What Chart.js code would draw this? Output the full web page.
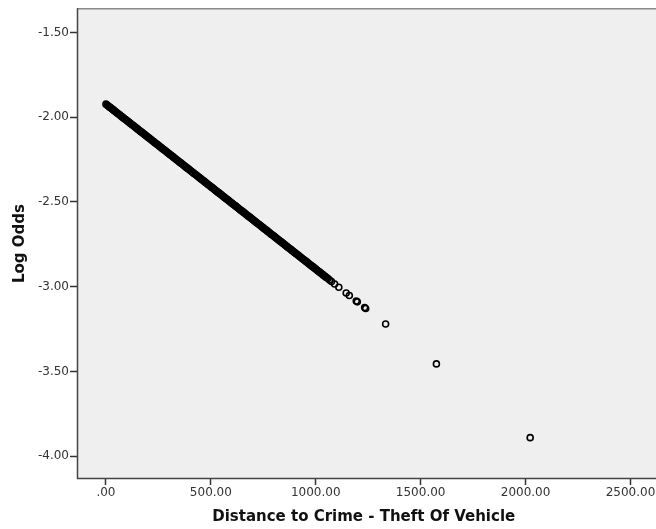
<!DOCTYPE html>
<html>
<head>
<meta charset="utf-8">
<script src="https://cdn.jsdelivr.net/npm/chart.js@4/dist/chart.umd.min.js"></script>
<style>
  html, body { margin: 0; padding: 0; background: #fff; overflow: hidden; }
  canvas { display: block; }
</style>
</head>
<body>
<canvas id="logOddsChart" width="656" height="529"></canvas>
<script>
// Values
const distance = [
    0, 5, 10, 15, 20, 25, 30, 35, 40, 45,
    50, 55, 60, 65, 70, 75, 80, 85, 90, 95,
    100, 105, 110, 115, 120, 125, 130, 135, 140, 145,
    150, 155, 160, 165, 170, 175, 180, 185, 190, 195,
    200, 205, 210, 215, 220, 225, 230, 235, 240, 245,
    250, 255, 260, 265, 270, 275, 280, 285, 290, 295,
    300, 305, 310, 315, 320, 325, 330, 335, 340, 345,
    350, 355, 360, 365, 370, 375, 380, 385, 390, 395,
    400, 405, 410, 415, 420, 425, 430, 435, 440, 445,
    450, 455, 460, 465, 470, 475, 480, 485, 490, 495,
    500, 505, 510, 515, 520, 525, 530, 535, 540, 545,
    550, 555, 560, 565, 570, 575, 580, 585, 590, 595,
    600, 605, 610, 615, 620, 625, 630, 635, 640, 645,
    650, 655, 660, 665, 670, 675, 680, 685, 690, 695,
    700, 705, 710, 715, 720, 725, 730, 735, 740, 745,
    750, 755, 760, 765, 770, 775, 780, 785, 790, 795,
    800, 805, 810, 815, 820, 825, 830, 835, 840, 845,
    850, 855, 860, 865, 870, 875, 880, 885, 890, 895,
    900, 905, 910, 915, 920, 925, 930, 935, 940, 945,
    950, 955, 960, 965, 970, 975, 980, 985, 990, 995,
    1000, 1005, 1010, 1015, 1020, 1025, 1030, 1035, 1040, 1045,
    1050, 1058, 1066, 1075, 1090, 1110, 1145, 1160, 1193, 1198,
    1233, 1238, 1333, 1575, 2022
];
const logOdds = [
    -1.923, -1.928, -1.933, -1.938, -1.942, -1.947, -1.952, -1.957, -1.962, -1.967,
    -1.972, -1.977, -1.981, -1.986, -1.991, -1.996, -2.001, -2.006, -2.011, -2.015,
    -2.020, -2.025, -2.030, -2.035, -2.040, -2.045, -2.049, -2.054, -2.059, -2.064,
    -2.069, -2.074, -2.079, -2.084, -2.088, -2.093, -2.098, -2.103, -2.108, -2.113,
    -2.118, -2.122, -2.127, -2.132, -2.137, -2.142, -2.147, -2.152, -2.157, -2.161,
    -2.166, -2.171, -2.176, -2.181, -2.186, -2.191, -2.195, -2.200, -2.205, -2.210,
    -2.215, -2.220, -2.225, -2.229, -2.234, -2.239, -2.244, -2.249, -2.254, -2.259,
    -2.264, -2.268, -2.273, -2.278, -2.283, -2.288, -2.293, -2.298, -2.302, -2.307,
    -2.312, -2.317, -2.322, -2.327, -2.332, -2.337, -2.341, -2.346, -2.351, -2.356,
    -2.361, -2.366, -2.371, -2.375, -2.380, -2.385, -2.390, -2.395, -2.400, -2.405,
    -2.410, -2.414, -2.419, -2.424, -2.429, -2.434, -2.439, -2.444, -2.448, -2.453,
    -2.458, -2.463, -2.468, -2.473, -2.478, -2.482, -2.487, -2.492, -2.497, -2.502,
    -2.507, -2.512, -2.517, -2.521, -2.526, -2.531, -2.536, -2.541, -2.546, -2.551,
    -2.555, -2.560, -2.565, -2.570, -2.575, -2.580, -2.585, -2.589, -2.594, -2.599,
    -2.604, -2.609, -2.614, -2.619, -2.624, -2.628, -2.633, -2.638, -2.643, -2.648,
    -2.653, -2.658, -2.662, -2.667, -2.672, -2.677, -2.682, -2.687, -2.692, -2.696,
    -2.701, -2.706, -2.711, -2.716, -2.721, -2.726, -2.731, -2.735, -2.740, -2.745,
    -2.750, -2.755, -2.760, -2.765, -2.770, -2.774, -2.779, -2.784, -2.789, -2.794,
    -2.799, -2.804, -2.808, -2.813, -2.818, -2.823, -2.828, -2.833, -2.838, -2.842,
    -2.847, -2.852, -2.857, -2.862, -2.867, -2.872, -2.877, -2.881, -2.886, -2.891,
    -2.896, -2.901, -2.906, -2.911, -2.915, -2.920, -2.925, -2.930, -2.935, -2.940,
    -2.945, -2.952, -2.960, -2.969, -2.984, -3.003, -3.037, -3.052, -3.084, -3.089,
    -3.123, -3.128, -3.220, -3.455, -3.890
];
const xTicks = [0, 500, 1000, 1500, 2000, 2500];
const yTicks = [-1.5, -2.0, -2.5, -3.0, -3.5, -4.0];

const fontFamily = '"DejaVu Sans", "Liberation Sans", sans-serif';

// Tlo i ramka obszaru wykresu (tlo siega do prawej krawedzi)
const framePlugin = {
    id: 'frame',
    beforeDraw(chart) {
        const { ctx, chartArea: a } = chart;
        ctx.save();
        ctx.fillStyle = '#efefef';
        ctx.fillRect(a.left, a.top, chart.width - a.left, a.bottom - a.top);
        ctx.restore();
    },
    afterDatasetsDraw(chart) {
        const { ctx, chartArea: a } = chart;
        ctx.save();
        ctx.strokeStyle = '#8a8a8a';
        ctx.lineWidth = 1.5;
        ctx.beginPath();
        ctx.moveTo(a.left, a.top + 0.5);
        ctx.lineTo(chart.width, a.top + 0.5);
        ctx.stroke();
        ctx.strokeStyle = '#444';
        ctx.lineWidth = 1.5;
        ctx.beginPath();
        ctx.moveTo(a.left + 0.5, a.top);
        ctx.lineTo(a.left + 0.5, a.bottom - 0.5);
        ctx.lineTo(chart.width, a.bottom - 0.5);
        ctx.stroke();
        ctx.restore();
    }
};

function fmt(v) {
    if (v === 0) return '.00';
    return v.toFixed(2);
}

const points = distance.map((d, i) => ({ x: d, y: logOdds[i] }));

new Chart(document.getElementById('logOddsChart'), {
    type: 'scatter',
    data: {
        datasets: [{
            data: points,
            pointRadius: 3,
            pointBorderWidth: 1.6,
            pointBorderColor: '#000',
            pointBackgroundColor: 'rgba(0,0,0,0)'
        }]
    },
    options: {
        responsive: false,
        animation: false,
        layout: { padding: { top: 8, right: 0, left: 0, bottom: 0 } },
        plugins: {
            legend: { display: false },
            tooltip: { enabled: false }
        },
        scales: {
            x: {
                type: 'linear',
                min: -138,
                max: 2595,
                afterBuildTicks: scale => { scale.ticks = xTicks.map(v => ({ value: v })); },
                afterFit: scale => {
                    scale.height = 50;
                    scale.paddingLeft = 0;
                    scale.paddingRight = 0;
                },
                grid: {
                    display: true,
                    drawOnChartArea: false,
                    drawTicks: true,
                    tickLength: 6,
                    tickWidth: 1.5,
                    tickColor: '#333'
                },
                border: { display: false },
                ticks: {
                    callback: v => fmt(v),
                    color: '#333',
                    font: { family: fontFamily, size: 12 },
                    padding: 1,
                    maxRotation: 0,
                    autoSkip: false
                },
                title: {
                    display: true,
                    text: 'Distance to Crime - Theft Of Vehicle',
                    color: '#111',
                    font: { family: fontFamily, size: 15, weight: 'bold' },
                    padding: { top: 0, bottom: 3 }
                }
            },
            y: {
                type: 'linear',
                min: -4.134,
                max: -1.357,
                afterBuildTicks: scale => { scale.ticks = yTicks.map(v => ({ value: v })); },
                afterFit: scale => { scale.width = 77; },
                grid: {
                    display: true,
                    drawOnChartArea: false,
                    drawTicks: true,
                    tickLength: 7,
                    tickWidth: 1.5,
                    tickColor: '#333'
                },
                border: { display: false },
                ticks: {
                    callback: v => fmt(v),
                    color: '#333',
                    font: { family: fontFamily, size: 12 },
                    padding: 1,
                    autoSkip: false
                },
                title: {
                    display: true,
                    text: 'Log Odds',
                    color: '#111',
                    font: { family: fontFamily, size: 15, weight: 'bold' },
                    padding: { top: 11, bottom: 0 }
                }
            }
        }
    },
    plugins: [framePlugin]
});
</script>
</body>
</html>
